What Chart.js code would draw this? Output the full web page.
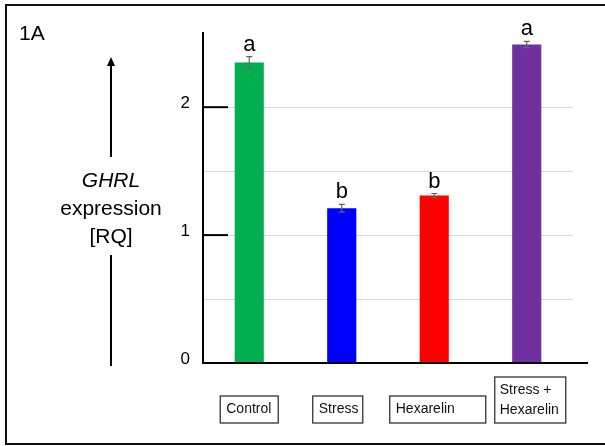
<!DOCTYPE html>
<html>
<head>
<meta charset="utf-8">
<script src="https://cdn.jsdelivr.net/npm/chart.js@4/dist/chart.umd.min.js"></script>
<style>
  html, body { margin: 0; padding: 0; background: #fff; }
  #wrap { width: 605px; height: 446px; position: relative; }
</style>
</head>
<body>
<div id="wrap"><canvas id="c" width="605" height="446"></canvas></div>
<script>
// GHRL expression (relative quantity) per treatment group
const groups = ['Control', 'Stress', 'Hexarelin', ['Stress +', 'Hexarelin']];
const ghrlRQ = [2.35, 1.21, 1.31, 2.49];
const ghrlErr = [0.045, 0.03, 0.015, 0.025];
const sigLetters = ['a', 'b', 'b', 'a'];
const yTickValues = [0, 1, 2];
const barColors = ['#00B050', '#0000FF', '#FF0000', '#7030A0'];

const FONT = '"Liberation Sans", Arial, sans-serif';

// label box styling under each bar (offset from bar centre, box width)
const boxStyle = [
  { dx: 0, w: 58 },
  { dx: -4, w: 50 },
  { dx: 3.5, w: 96 },
  { dx: 3.5, w: 71 }
];

const decorations = {
  id: 'decorations',
  afterDatasetsDraw(chart) {
    const ctx = chart.ctx;
    const area = chart.chartArea;
    const x = chart.scales.x, y = chart.scales.y;
    ctx.save();

    // error bars
    ctx.strokeStyle = '#666';
    ctx.lineWidth = 1.2;
    ghrlRQ.forEach((v, i) => {
      const cx = x.getPixelForValue(i);
      const yt = y.getPixelForValue(v + ghrlErr[i]);
      const yb = y.getPixelForValue(v - ghrlErr[i]);
      ctx.beginPath();
      ctx.moveTo(cx, yt); ctx.lineTo(cx, yb);
      ctx.moveTo(cx - 3, yt); ctx.lineTo(cx + 3, yt);
      ctx.moveTo(cx - 3, yb); ctx.lineTo(cx + 3, yb);
      ctx.stroke();
    });

    // significance letters
    ctx.fillStyle = '#000';
    ctx.font = '22px ' + FONT;
    ctx.textAlign = 'center';
    ctx.textBaseline = 'alphabetic';
    ghrlRQ.forEach((v, i) => {
      const cx = x.getPixelForValue(i);
      const yt = y.getPixelForValue(v + ghrlErr[i]);
      ctx.fillText(sigLetters[i], cx, yt - 6);
    });

    // x axis line, extended past the plot
    ctx.strokeStyle = '#000';
    ctx.lineWidth = 2;
    ctx.beginPath();
    ctx.moveTo(area.left - 1, area.bottom);
    ctx.lineTo(area.right + 15, area.bottom);
    ctx.stroke();

    // tick marks for labelled values
    yTickValues.filter(v => v > 0).forEach(v => {
      const py = y.getPixelForValue(v);
      ctx.beginPath();
      ctx.moveTo(area.left, py);
      ctx.lineTo(area.left + 25, py);
      ctx.stroke();
    });

    // group label boxes
    ctx.font = '14px ' + FONT;
    ctx.textAlign = 'left';
    ctx.textBaseline = 'middle';
    groups.forEach((g, i) => {
      const lines = Array.isArray(g) ? g : [g];
      const cx = x.getPixelForValue(i) + boxStyle[i].dx;
      const w = boxStyle[i].w;
      const h = lines.length === 1 ? 27 : 46;
      const bottom = area.bottom + 60;
      const left = cx - w / 2;
      ctx.strokeStyle = '#333';
      ctx.lineWidth = 1.3;
      ctx.strokeRect(left, bottom - h, w, h);
      ctx.fillStyle = '#111';
      if (lines.length === 1) {
        ctx.fillText(lines[0], left + 6, bottom - h / 2);
      } else {
        ctx.fillText(lines[0], left + 5, bottom - h + 13);
        ctx.fillText(lines[1], left + 5, bottom - h + 33);
      }
    });

    // axis annotation: arrow with label
    const ax = 111;
    ctx.strokeStyle = '#000';
    ctx.fillStyle = '#000';
    ctx.lineWidth = 2;
    ctx.beginPath();
    ctx.moveTo(ax, 157); ctx.lineTo(ax, 64);
    ctx.moveTo(ax, 255); ctx.lineTo(ax, 366);
    ctx.stroke();
    ctx.beginPath();
    ctx.moveTo(ax, 57); ctx.lineTo(ax - 4, 66); ctx.lineTo(ax + 4, 66);
    ctx.closePath();
    ctx.fill();

    ctx.textAlign = 'center';
    ctx.textBaseline = 'middle';
    ctx.font = 'italic 21px ' + FONT;
    ctx.fillText('GHRL', ax, 181);
    ctx.font = '21px ' + FONT;
    ctx.fillText('expression', ax, 209);
    ctx.fillText('[RQ]', ax, 237);

    // panel tag
    ctx.textAlign = 'left';
    ctx.fillText('1A', 19, 34);

    // panel frame
    ctx.strokeStyle = '#111';
    ctx.lineWidth = 2;
    ctx.beginPath();
    ctx.moveTo(610, 5); ctx.lineTo(6, 5); ctx.lineTo(6, 444); ctx.lineTo(610, 444);
    ctx.stroke();

    ctx.restore();
  }
};

new Chart(document.getElementById('c'), {
  type: 'bar',
  data: {
    labels: groups,
    datasets: [{
      data: ghrlRQ,
      backgroundColor: barColors,
      borderWidth: 0,
      barPercentage: 0.315,
      categoryPercentage: 1
    }]
  },
  options: {
    responsive: false,
    animation: false,
    devicePixelRatio: 1,
    layout: { padding: { left: 0, right: 32, top: 33, bottom: 0 } },
    plugins: { legend: { display: false }, tooltip: { enabled: false } },
    scales: {
      x: {
        grid: { display: false },
        border: { display: false },
        ticks: { display: false },
        afterFit: s => { s.height = 83; }
      },
      y: {
        min: 0,
        max: 2.58,
        afterFit: s => { s.width = 203; },
        border: { display: true, color: '#000', width: 2 },
        grid: {
          drawTicks: false,
          lineWidth: 1,
          color: c => {
            const v = c.tick.value;
            const onHalf = Math.abs(v * 2 - Math.round(v * 2)) < 1e-6;
            return (onHalf && v > 0) ? '#d9d9d9' : 'rgba(0,0,0,0)';
          }
        },
        ticks: {
          stepSize: 0.5,
          padding: 13,
          labelOffset: -4,
          color: '#000',
          font: { family: FONT, size: 17 },
          callback: v => yTickValues.includes(v) ? String(v) : ''
        }
      }
    }
  },
  plugins: [decorations]
});
</script>
</body>
</html>
